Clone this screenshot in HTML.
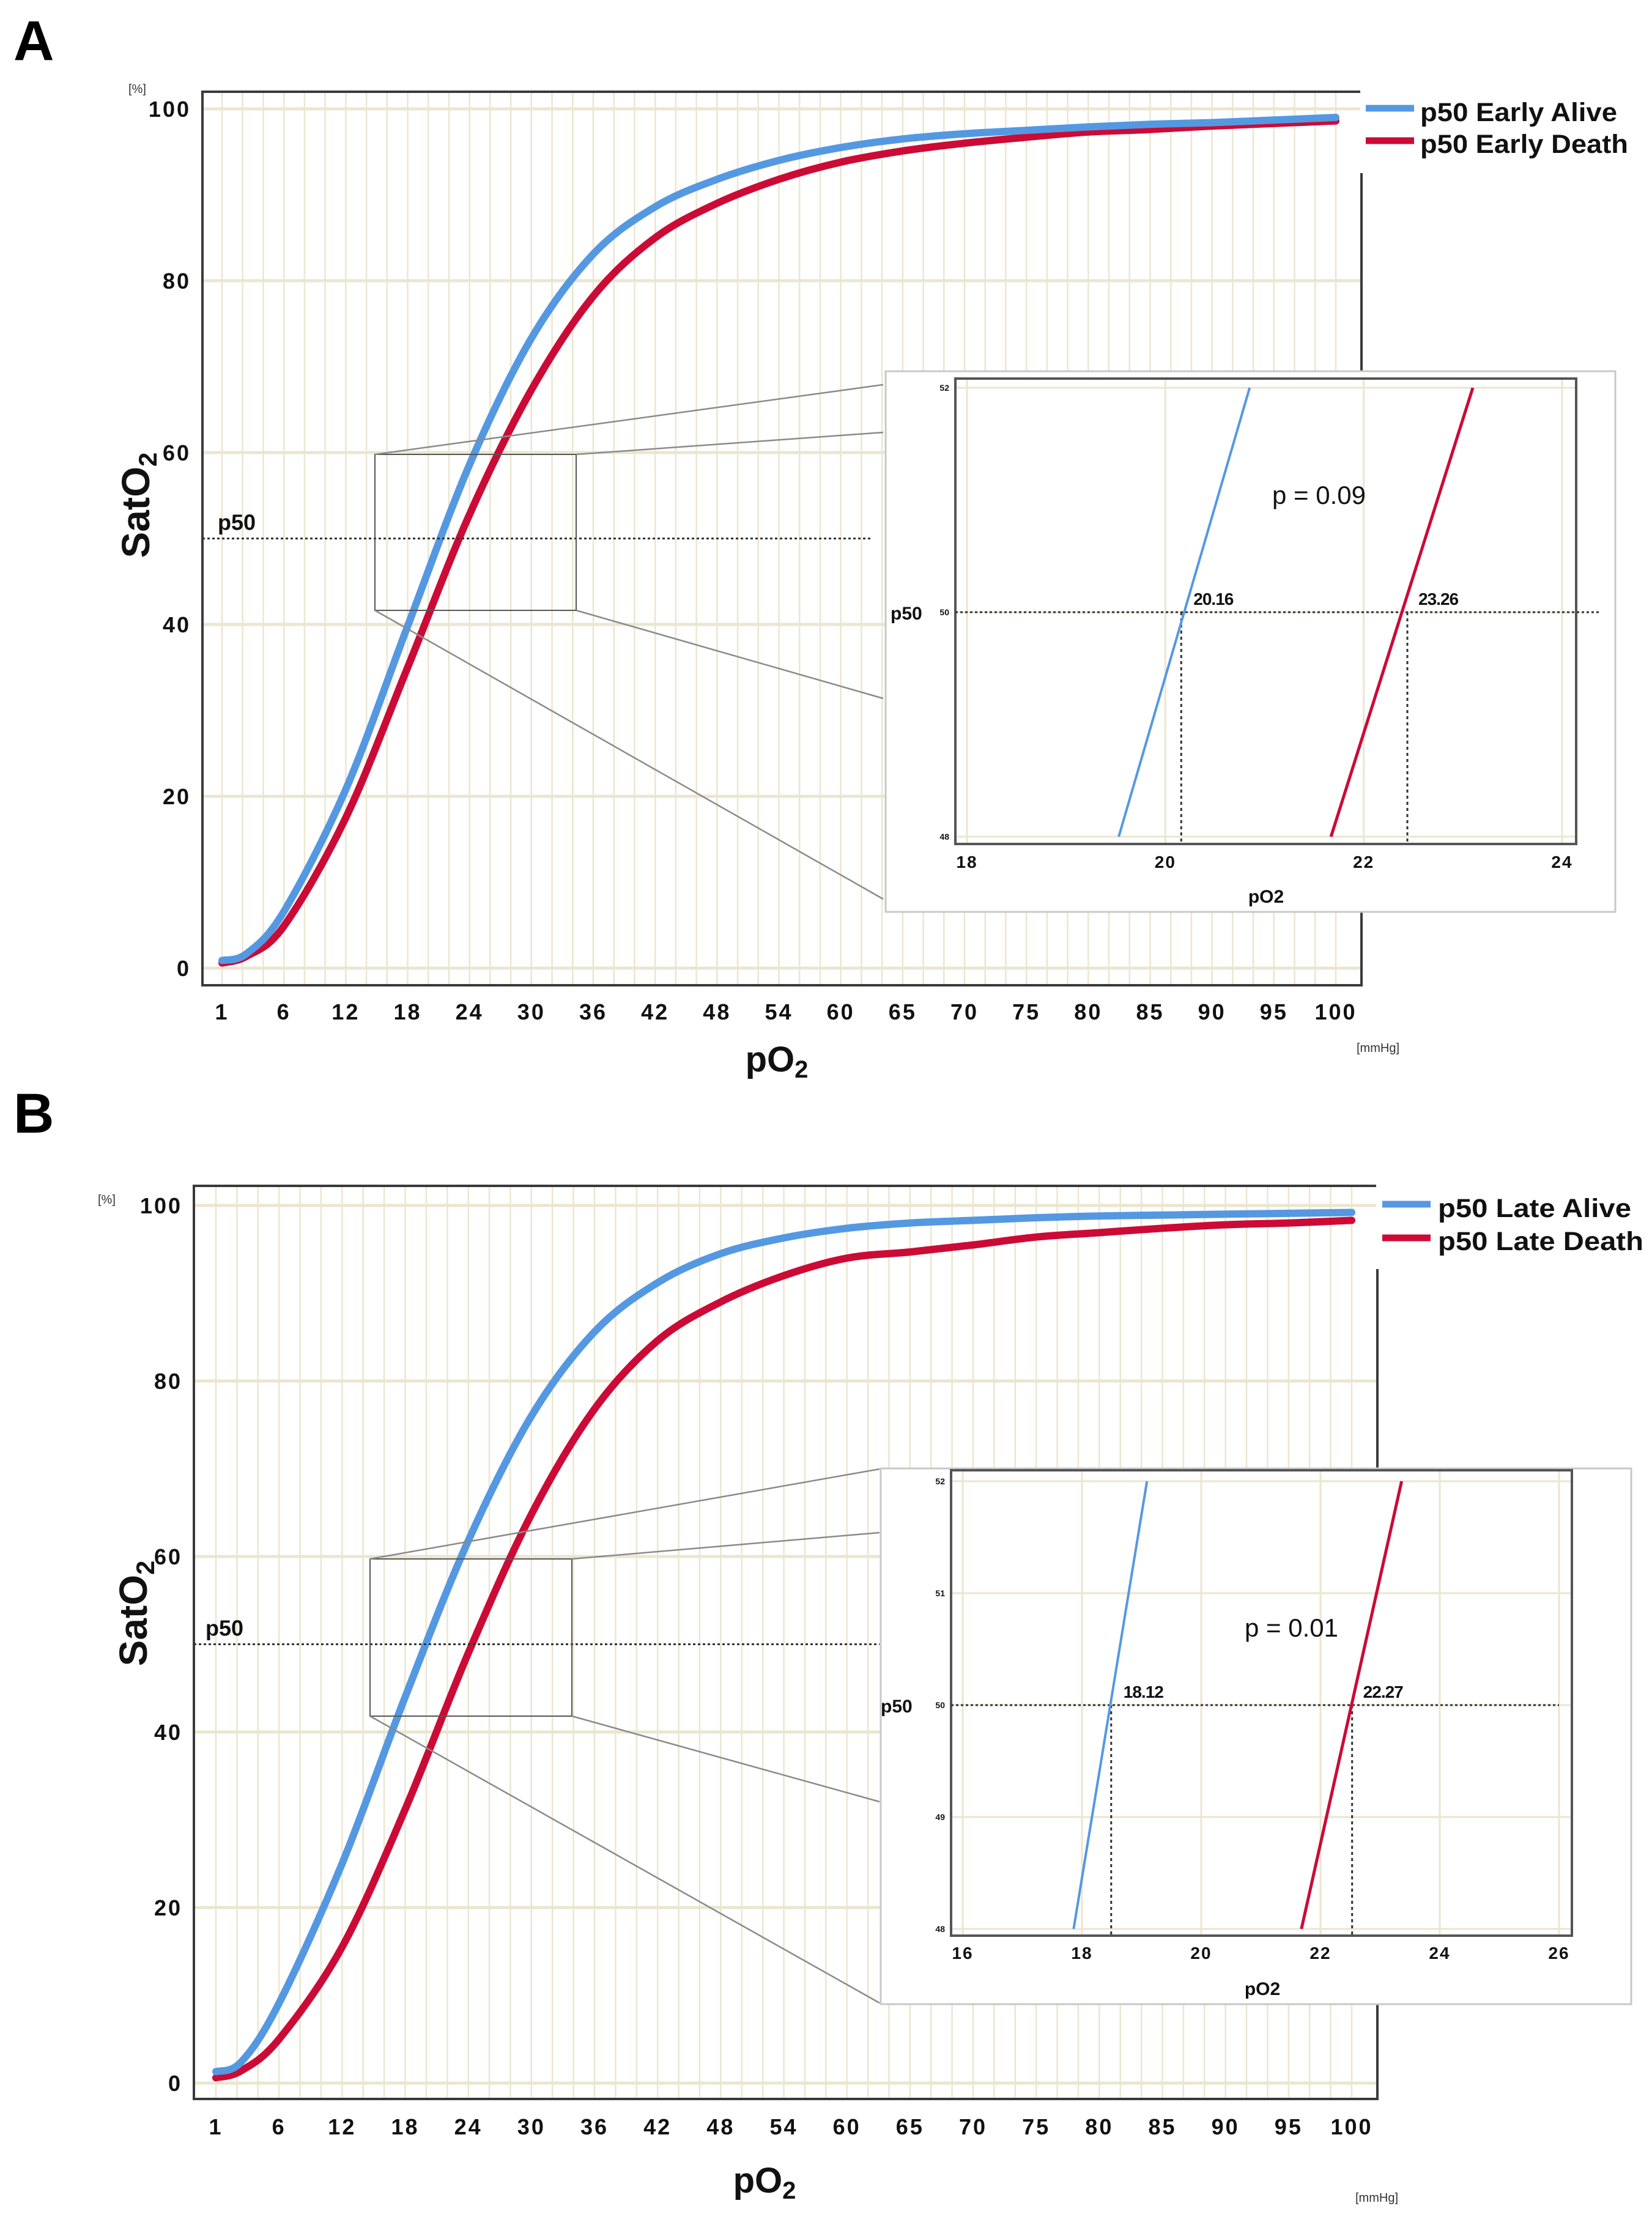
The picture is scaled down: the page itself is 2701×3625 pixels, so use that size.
<!DOCTYPE html>
<html><head><meta charset="utf-8"><style>
html,body{margin:0;padding:0;background:#fff;}
svg{display:block;font-family:"Liberation Sans",Arial,sans-serif;}
</style></head><body>
<svg id="fig" width="2701" height="3625" viewBox="0 0 2701 3625" xmlns="http://www.w3.org/2000/svg"></svg>
<script>
// ---- data ----
const xTickLabels = [1,6,12,18,24,30,36,42,48,54,60,65,70,75,80,85,90,95,100];
const yTickLabels = [0,20,40,60,80,100];
const curvePO2 = [1,3,6,12,18,24,30,36,42,48,54,60,65,70,75,80,85,90,95,100];
const earlyAliveSat = [0.9,1.7,6.6,20.8,39.8,58.6,73.3,83.1,88.6,91.8,94.0,95.5,96.5,97.1,97.5,97.9,98.2,98.4,98.7,99.0];
const earlyDeathSat = [0.6,1.4,4.9,17.5,35.0,52.8,67.3,78.2,85.0,89.0,91.8,93.8,95.1,96.0,96.7,97.3,97.6,98.0,98.3,98.6];
const lateAliveSat = [1.3,2.4,9.1,25.0,44.0,61.8,76.0,85.6,91.2,94.5,96.3,97.4,98.0,98.3,98.6,98.8,98.9,99.0,99.1,99.2];
const lateDeathSat = [0.6,1.4,5.0,15.5,31.2,49.0,64.8,76.8,84.6,89.0,92.0,94.0,94.7,95.5,96.4,96.9,97.4,97.8,98.0,98.3];
// inset zoom lines: [pO2 at sat 48, pO2 at sat 52]
const insetAAlive = [19.53,20.85];
const insetADeath = [21.67,23.10];
const insetBAlive = [17.86,19.09];
const insetBDeath = [21.68,23.36];
const insetAXTicks = [18,20,22,24];
const insetAYTicks = [48,50,52];
const insetBXTicks = [16,18,20,22,24,26];
const insetBYTicks = [48,49,50,51,52];
const insetAP50 = [20.16,23.26];
const insetBP50 = [18.12,22.27];
const insetAMarks = [20.16,22.44];
const insetBMarks = [18.49,22.53];

const NS="http://www.w3.org/2000/svg";
const svg=document.getElementById('fig');
function mk(tag,attrs,parent,text){const e=document.createElementNS(NS,tag);for(const k in attrs)e.setAttribute(k,attrs[k]);if(text!==undefined)e.textContent=text;(parent||svg).appendChild(e);return e;}
const BLUE="#5598e2", RED="#cc0a36", GRID="#ebe6cf";

function smoothPath(pts){
  let d="M"+pts[0][0].toFixed(1)+","+pts[0][1].toFixed(1);
  for(let i=0;i<pts.length-1;i++){
    const p0=pts[Math.max(0,i-1)],p1=pts[i],p2=pts[i+1],p3=pts[Math.min(pts.length-1,i+2)];
    const c1=[p1[0]+(p2[0]-p0[0])/6,p1[1]+(p2[1]-p0[1])/6];
    const c2=[p2[0]-(p3[0]-p1[0])/6,p2[1]-(p3[1]-p1[1])/6];
    d+=" C"+c1[0].toFixed(1)+","+c1[1].toFixed(1)+" "+c2[0].toFixed(1)+","+c2[1].toFixed(1)+" "+p2[0].toFixed(1)+","+p2[1].toFixed(1);
  }
  return d;
}

function panel(P){
  const g=mk('g',{});
  
  
  const n=xTickLabels.length-1;
  const xs=v=>{
    let i=0; while(i<n-1 && v>xTickLabels[i+1]) i++;
    const t=(v-xTickLabels[i])/(xTickLabels[i+1]-xTickLabels[i]);
    return P.x0+(i+t)*(P.x1-P.x0)/n;
  };
  const ys=v=>P.y0+(P.y100-P.y0)*v/100;
  const step=(P.x1-P.x0)/n;
  const L=mk('text',{x:P.letX,y:P.letY,'font-size':92,'font-weight':'bold',fill:'#000'},g,P.letter);
  
  mk('rect',{x:P.l,y:P.t,width:P.r-P.l,height:P.b-P.t,fill:'#fff'},g);
  for(let k=0;k<=n*3;k++){const x=P.x0+k*step/3;mk('line',{x1:x,x2:x,y1:P.t,y2:P.b,stroke:GRID,'stroke-width':2.5},g);}
  yTickLabels.forEach(v=>{mk('line',{x1:P.l,x2:P.r,y1:ys(v),y2:ys(v),stroke:GRID,'stroke-width':5},g);});
  const fr=mk('rect',{x:P.l,y:P.t,width:P.r-P.l,height:P.b-P.t,fill:'none',stroke:'#3a3a3a','stroke-width':4},g);
  
  yTickLabels.forEach(v=>{const t=mk('text',{x:P.yLabX,y:ys(v)+13,'font-size':36,'font-weight':'bold','text-anchor':'end','letter-spacing':3,fill:'#111'},g,String(v));
    });
  xTickLabels.forEach(v=>{const t=mk('text',{x:xs(v),y:P.xLabY,'font-size':36,'font-weight':'bold','text-anchor':'middle','letter-spacing':3,fill:'#111'},g,String(v));
    });
  const yt=mk('text',{x:0,y:0,'font-size':64,'font-weight':'bold',fill:'#111','text-anchor':'middle',transform:`translate(${P.ytX},${P.ytY}) rotate(-90)`},g);
  
  mk('tspan',{},yt,'SatO');mk('tspan',{'font-size':42,dy:12},yt,'2');
  const xt=mk('text',{x:P.xtX,y:P.xtY,'font-size':58,'font-weight':'bold',fill:'#111','text-anchor':'middle'},g);
  
  mk('tspan',{},xt,'pO');mk('tspan',{'font-size':40,dy:10},xt,'2');
  const u1=mk('text',{x:P.unitX,y:P.unitY,'font-size':20,fill:'#333'},g,'[mmHg]');
  
  const u2=mk('text',{x:P.pctX,y:P.pctY,'font-size':20,fill:'#333'},g,'[%]');
  
  [[P.death,RED,'death-curve'],[P.alive,BLUE,'alive-curve']].forEach(([arr,c,nm])=>{
    const pts=curvePO2.map((p,i)=>[xs(p),ys(arr[i])]);
    const pa=mk('path',{d:smoothPath(pts),fill:'none',stroke:c,'stroke-width':12,'stroke-linecap':'round','stroke-linejoin':'round'},g);
    
  });
  const pl=mk('line',{x1:P.l,x2:P.p50End,y1:ys(50),y2:ys(50),stroke:'#333','stroke-width':3,'stroke-dasharray':'4 4'},g);
  
  const p5=mk('text',{x:P.p50LX,y:ys(50)-14,'font-size':36,'font-weight':'bold',fill:'#111'},g,'p50');
  
  const zr=P.zoom;
  const zrr=mk('rect',{x:zr[0],y:zr[1],width:zr[2]-zr[0],height:zr[3]-zr[1],fill:'none',stroke:'#555','stroke-width':2},g);
  
  P.conn.forEach(c=>{mk('line',{x1:c[0],y1:c[1],x2:c[2],y2:c[3],stroke:'#8a8a8a','stroke-width':2.5},g);});
  const lg=mk('g',{},g);
  mk('rect',{x:P.r-2,y:P.t-4,width:2701-P.r+2,height:P.legH,fill:'#fff'},lg);
  P.leg.forEach(([txt,c,y,base,len])=>{
    const e=mk('g',{},lg);
    mk('line',{x1:P.legX1,x2:P.legX2,y1:y,y2:y,stroke:c,'stroke-width':11},e);
    mk('text',{x:P.legTX,y:base,'font-size':43,'font-weight':'bold',fill:'#111',textLength:len,lengthAdjust:'spacingAndGlyphs'},e,txt);
  });
  const I=P.inset;
  const ig=mk('g',{},g);
  mk('rect',{x:I.ox0,y:I.oy0,width:I.ox1-I.ox0,height:I.oy1-I.oy0,fill:'#fff',stroke:'#c8c8c8','stroke-width':3},ig);
  const ix=v=>I.xa+(v-I.xv[0])*(I.xb-I.xa)/(I.xv[1]-I.xv[0]);
  const iy=v=>I.ya+(v-52)*(I.yb-I.ya)/(48-52);
  I.xt.forEach(v=>{mk('line',{x1:ix(v),x2:ix(v),y1:I.t,y2:I.b,stroke:GRID,'stroke-width':3},ig);
    const t=mk('text',{x:ix(v),y:I.xlY,'font-size':28,'font-weight':'bold','text-anchor':'middle','letter-spacing':2,fill:'#111'},ig,String(v));
    });
  I.yt.forEach(v=>{mk('line',{x1:I.l,x2:I.r,y1:iy(v),y2:iy(v),stroke:GRID,'stroke-width':3},ig);
    const t=mk('text',{x:I.l-10,y:iy(v)+5,'font-size':14,'font-weight':'bold','text-anchor':'end',fill:'#111'},ig,String(v));
    });
  mk('rect',{x:I.l,y:I.t,width:I.r-I.l,height:I.b-I.t,fill:'none',stroke:'#555','stroke-width':4},ig);
  mk('line',{x1:I.l,x2:I.p50End,y1:iy(50),y2:iy(50),stroke:'#333','stroke-width':3,'stroke-dasharray':'4 4'},ig);
  I.marks.forEach(v=>{mk('line',{x1:ix(v),x2:ix(v),y1:iy(50),y2:I.b,stroke:'#333','stroke-width':3,'stroke-dasharray':'5 5'},ig);});
  [[I.alive,BLUE,4,'inset-alive-line'],[I.death,RED,5,'inset-death-line']].forEach(([a,c,w,nm])=>{
    const ln=mk('line',{x1:ix(a[0]),y1:iy(48),x2:ix(a[1]),y2:iy(52),stroke:c,'stroke-width':w},ig);
    
  });
  I.p50v.forEach((v,k)=>{const t=mk('text',{x:ix(I.marks[k])+(k?18:20),y:iy(50)-12,'font-size':28,'font-weight':'bold',fill:'#111','letter-spacing':-1},ig,v.toFixed(2));
    });
  const pv=mk('text',{x:I.pX,y:I.pY,'font-size':42,fill:'#111'},ig,I.pTxt);
  
  const ipl=mk('text',{x:I.p50X,y:iy(50)+12,'font-size':30,'font-weight':'bold',fill:'#111'},ig,'p50');
  
  const ixt=mk('text',{x:I.xtX,y:I.xtY,'font-size':30,'font-weight':'bold','text-anchor':'middle',fill:'#111'},ig,'pO2');
  
}

panel({key:'early',letter:'A',letX:22,letY:98,l:331,t:150,r:2226,b:1611,x0:363,x1:2184,y0:1583,y100:178,
  yLabX:312,xLabY:1667,ytX:244,ytY:826,xtX:1270,xtY:1752,unitX:2218,unitY:1720,pctX:210,pctY:152,
  alive:earlyAliveSat,death:earlyDeathSat,p50End:1426,p50LX:356,
  zoom:[613,743,942,998],conn:[[613,743,1444,629],[942,743,1444,707],[613,998,1444,1470],[942,998,1444,1142]],
  legH:137,legX1:2233,legX2:2312,legTX:2322,
  leg:[['p50 Early Alive',BLUE,177,198,322],['p50 Early Death',RED,230,250,340]],
  inset:{ox0:1448,oy0:607,ox1:2641,oy1:1491,l:1562,t:619,r:2577,b:1380,xa:1581,xb:2554,xv:[18,24],ya:634,yb:1368,
    xt:insetAXTicks,yt:insetAYTicks,alive:insetAAlive,death:insetADeath,marks:insetAMarks,p50v:insetAP50,p50End:2615,
    xlY:1419,pX:2080,pY:824,pTxt:'p = 0.09',p50X:1456,xtX:2070,xtY:1476}
});
panel({key:'late',letter:'B',letX:22,letY:1852,l:317,t:1939,r:2252,b:3432,x0:353,x1:2210,y0:3406,y100:1971,
  yLabX:298,xLabY:3490,ytX:240,ytY:2638,xtX:1250,xtY:3585,unitX:2216,unitY:3600,pctX:160,pctY:1968,
  alive:lateAliveSat,death:lateDeathSat,p50End:1438,p50LX:336,
  zoom:[605,2549,935,2806],conn:[[605,2549,1438,2402],[935,2549,1438,2506],[605,2806,1438,3275],[935,2806,1438,2946]],
  legH:140,legX1:2260,legX2:2339,legTX:2351,
  leg:[['p50 Late Alive',BLUE,1969,1990,316],['p50 Late Death',RED,2024,2044,336]],
  inset:{ox0:1440,oy0:2401,ox1:2667,oy1:3277,l:1555,t:2404,r:2570,b:3165,xa:1574,xb:2549,xv:[16,26],ya:2422,yb:3154,
    xt:insetBXTicks,yt:insetBYTicks,alive:insetBAlive,death:insetBDeath,marks:insetBMarks,p50v:insetBP50,p50End:2549,
    xlY:3203,pX:2035,pY:2676,pTxt:'p = 0.01',p50X:1440,xtX:2064,xtY:3262}
});
</script>
</body></html>
